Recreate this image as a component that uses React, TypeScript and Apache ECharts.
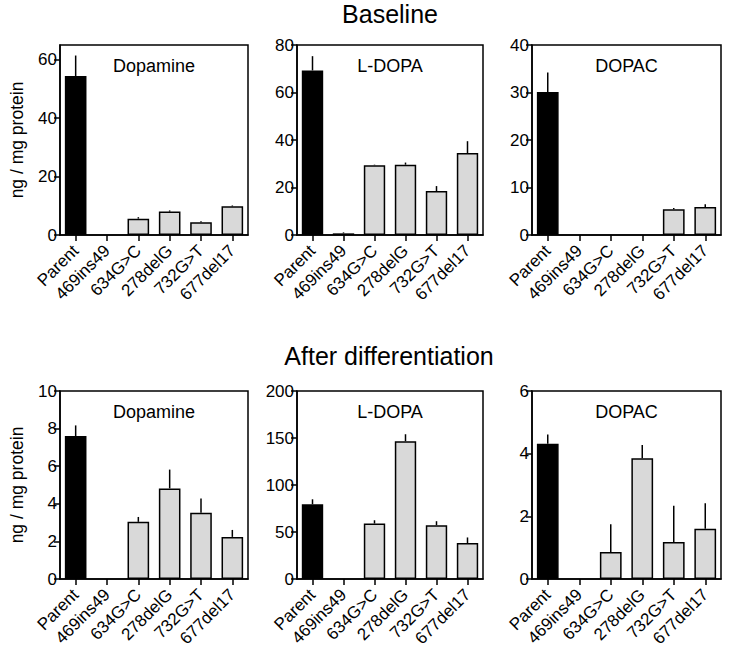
import React, { useEffect, useRef } from "react";
import * as echarts from "echarts";

const categories = ["Parent", "469ins49", "634G>C", "278delG", "732G>T", "677del17"];

const baselineDopamine = [54.4, 0, 5.6, 8.0, 4.4, 9.8];
const baselineDopamineErr = [7.0, 0, 0.5, 0.4, 0.3, 0.3];
const baselineLdopa = [69.3, 0.7, 29.4, 29.6, 18.5, 34.5];
const baselineLdopaErr = [6.0, 0.4, 0.2, 0.9, 2.1, 5.0];
const baselineDopac = [30.1, 0, 0, 0, 5.4, 5.9];
const baselineDopacErr = [4.1, 0, 0, 0, 0.3, 0.6];

const afterDopamine = [7.6, 0, 3.04, 4.82, 3.53, 2.24];
const afterDopamineErr = [0.57, 0, 0.26, 1.0, 0.75, 0.37];
const afterLdopa = [79.5, 0, 59, 146.6, 57.2, 38.2];
const afterLdopaErr = [5.3, 0, 3.5, 7.4, 4.3, 6.0];
const afterDopac = [4.32, 0, 0.86, 3.85, 1.18, 1.6];
const afterDopacErr = [0.29, 0, 0.89, 0.43, 1.16, 0.82];

const panelTitles = ["Dopamine", "L-DOPA", "DOPAC", "Dopamine", "L-DOPA", "DOPAC"];
const sectionTitles = ["Baseline", "After differentiation"];
const yAxisTitle = "ng / mg protein";

const yMax = [65, 80, 40, 10, 200, 6];
const yTicks = [
  [0, 20, 40, 60],
  [0, 20, 40, 60, 80],
  [0, 10, 20, 30, 40],
  [0, 2, 4, 6, 8, 10],
  [0, 50, 100, 150, 200],
  [0, 2, 4, 6],
];

const values = [baselineDopamine, baselineLdopa, baselineDopac, afterDopamine, afterLdopa, afterDopac];
const errors = [baselineDopamineErr, baselineLdopaErr, baselineDopacErr, afterDopamineErr, afterLdopaErr, afterDopacErr];

const FONT = "'Liberation Sans', Arial, Helvetica, sans-serif";

export default function App() {
  const ref = useRef<HTMLDivElement>(null);
  useEffect(() => {
    if (!ref.current) return;
    const chart = echarts.init(ref.current, undefined, { renderer: "svg" });
    const lefts = [60, 297, 532];
    const widths = [188, 186, 189];
    const tops = [45, 391];
    const heights = [190, 188];

    const grids: any[] = [];
    const xAxes: any[] = [];
    const yAxes: any[] = [];
    const series: any[] = [];
    const graphics: any[] = [];

    for (let p = 0; p < 6; p++) {
      const row = Math.floor(p / 3);
      const col = p % 3;
      grids.push({
        left: lefts[col],
        top: tops[row],
        width: widths[col],
        height: heights[row],
        show: true,
        borderColor: "#000",
        borderWidth: 1.5,
        backgroundColor: "transparent",
        containLabel: false,
      });
      xAxes.push({
        type: "category",
        gridIndex: p,
        data: categories,
        boundaryGap: true,
        axisLine: { show: true, lineStyle: { color: "#000", width: 1.5 } },
        axisTick: { show: true, alignWithLabel: true, length: 6, lineStyle: { color: "#000", width: 1.5 } },
        axisLabel: {
          rotate: 45,
          interval: 0,
          margin: 13,
          color: "#000",
          fontSize: 17,
          fontFamily: FONT,
        },
      });
      yAxes.push({
        type: "value",
        gridIndex: p,
        min: 0,
        max: yMax[p],
        splitLine: { show: false },
        axisLine: { show: true, lineStyle: { color: "#000", width: 1.5 } },
        axisTick: { show: true, length: 6, lineStyle: { color: "#000", width: 1.5 }, customValues: yTicks[p] },
        axisLabel: { color: "#000", fontSize: 17, fontFamily: FONT, margin: 3, customValues: yTicks[p] },
        name: col === 0 ? yAxisTitle : "",
        nameLocation: "middle",
        nameGap: 34,
        nameTextStyle: { color: "#000", fontSize: 17.5, fontFamily: FONT },
      });
      const vals = values[p];
      const errs = errors[p];
      series.push({
        type: "bar",
        xAxisIndex: p,
        yAxisIndex: p,
        barWidth: "69%",
        data: vals.map((v, i) => ({
          value: v,
          itemStyle: {
            color: i === 0 ? "#000" : "#d9d9d9",
            borderColor: "#000",
            borderWidth: v > 0 ? 1.5 : 0,
          },
        })),
      });
      series.push({
        type: "custom",
        xAxisIndex: p,
        yAxisIndex: p,
        z: 5,
        data: vals.map((v, i) => [i, v, errs[i]]),
        encode: { x: 0, y: 1 },
        renderItem: (params: any, api: any) => {
          const idx = api.value(0);
          const v = api.value(1);
          const e = api.value(2);
          if (!e) return null;
          const a = api.coord([idx, v]);
          const b = api.coord([idx, v + e]);
          return {
            type: "line",
            shape: { x1: a[0], y1: a[1], x2: b[0], y2: b[1] },
            style: { stroke: "#000", lineWidth: 1.5 },
          };
        },
      });
      graphics.push({
        type: "text",
        x: lefts[col] + widths[col] / 2,
        y: tops[row] + 21,
        style: {
          text: panelTitles[p],
          fill: "#000",
          fontSize: 18,
          fontFamily: FONT,
          textAlign: "center",
          textVerticalAlign: "middle",
        },
      });
    }
    graphics.push({
      type: "text",
      x: 390,
      y: 14,
      style: { text: sectionTitles[0], fill: "#000", fontSize: 25, fontFamily: FONT, textAlign: "center", textVerticalAlign: "middle" },
    });
    graphics.push({
      type: "text",
      x: 389,
      y: 356,
      style: { text: sectionTitles[1], fill: "#000", fontSize: 25, fontFamily: FONT, textAlign: "center", textVerticalAlign: "middle" },
    });

    chart.setOption({
      animation: false,
      backgroundColor: "#fff",
      textStyle: { fontFamily: FONT },
      grid: grids,
      xAxis: xAxes,
      yAxis: yAxes,
      series,
      graphic: graphics,
    });
    return () => chart.dispose();
  }, []);
  return (
    <div
      ref={ref}
      style={{ position: "fixed", left: 0, top: 0, width: 729, height: 656, background: "#fff" }}
    />
  );
}
